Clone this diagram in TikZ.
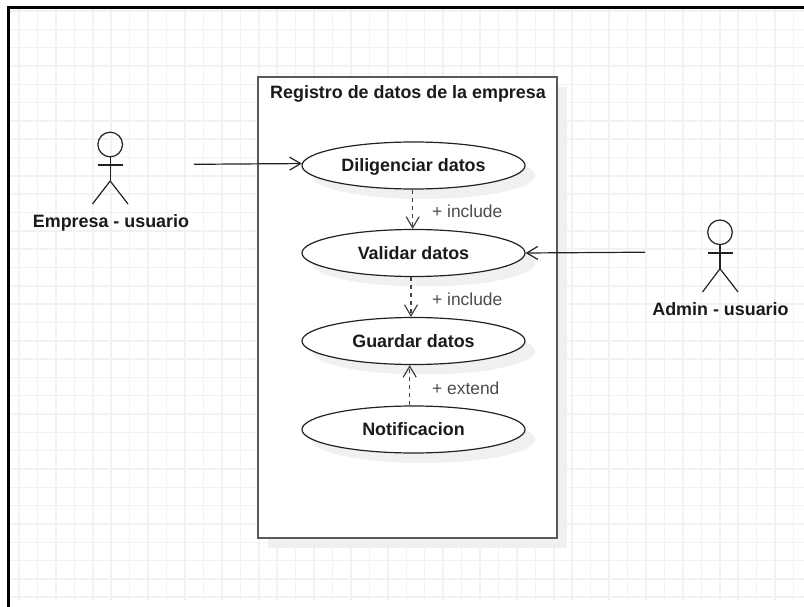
\documentclass[tikz,border=0pt]{standalone}
\usepackage{fontspec}
\setmainfont{Liberation Sans}
\usetikzlibrary{shapes.geometric,arrows.meta}
\definecolor{gridc}{HTML}{F2F2F2}
\definecolor{shadowc}{HTML}{F0F0F0}
\definecolor{inkc}{HTML}{1A1A1A}
\definecolor{edgec}{HTML}{222222}
\tikzset{
  x=1pt,y=-1pt,
  gridline/.style={gridc,line width=1.5pt},
  framel/.style={black,line width=3pt},
  boxl/.style={draw=black!65,line width=2pt,fill=white},
  usecase/.style={ellipse,draw=edgec,line width=1.2pt,fill=white,minimum width=223pt,minimum height=47pt,inner sep=0pt,font=\fontsize{17.9}{20}\selectfont\bfseries,text=inkc,text height=14pt,text depth=2pt},
  usecaseshadow/.style={ellipse,fill=shadowc,draw=none,minimum width=223pt,minimum height=47pt,inner sep=0pt},
  head/.style={circle,draw=edgec,line width=1.2pt,minimum size=24.6pt,inner sep=0pt},
  limb/.style={edgec,line width=1.2pt},
  actorlabel/.style={font=\fontsize{17.9}{20}\selectfont\bfseries,text=inkc,inner sep=0pt,anchor=base},
  titlelabel/.style={font=\fontsize{17.9}{20}\selectfont\bfseries,text=inkc,inner sep=0pt,anchor=base},
  rellabel/.style={font=\fontsize{17.4}{20}\selectfont,text=black!70,inner sep=0pt,anchor=base west},
  assoc/.style={edgec,line width=1.2pt,-{Straight Barb[length=11pt,width=13pt,line width=1.2pt]}},
  dep/.style={edgec!85,line width=1.5pt,dash pattern=on 4pt off 4pt,-{Straight Barb[length=11pt,width=13pt,line width=1.2pt]}},
}
\begin{document}
\begin{tikzpicture}
\useasboundingbox (0,0) rectangle (804,607);
\fill[white] (0,0) rectangle (804,607);
% grid
\foreach \k in {1,...,43} \draw[gridline] ({0.6+18.44*\k},9) -- ({0.6+18.44*\k},600);
\foreach \k in {0,...,32} \draw[gridline] (10,{11+18.32*\k}) -- (804,{11+18.32*\k});
% frame
\draw[framel] (8.5,607) -- (8.5,7.3) -- (804,7.3);
% system boundary
\fill[shadowc] (268,87) rectangle (567,548);
\draw[boxl] (258,77) rectangle (557,538);
\node[titlelabel] (title) at (408,99) {Registro de datos de la empresa};
% use case shadows
\node[usecaseshadow] (s1) at (423.5,175.5) {};
\node[usecaseshadow] (s2) at (423.5,263) {};
\node[usecaseshadow] (s3) at (423.5,351) {};
\node[usecaseshadow] (s4) at (423.5,439.5) {};
% use cases
\node[usecase] (dil) at (413.5,165.5) {Diligenciar datos};
\node[usecase] (val) at (413.5,253) {Validar datos};
\node[usecase] (gua) at (413.5,341) {Guardar datos};
\node[usecase] (not) at (413.5,429.5) {Notificacion};
% actor left
\node[head] (h1) at (110.2,144.5) {};
\coordinate (n1) at (110.2,181);
\coordinate (al1) at (97.7,165);
\coordinate (ar1) at (123,165);
\coordinate (ll1) at (92.5,204);
\coordinate (lr1) at (128,204);
\draw[limb] (h1) -- (n1);
\draw[limb] (al1) -- (ar1);
\draw[limb] (ll1) -- (n1) -- (lr1);
\node[actorlabel] (l1) at (111,227.7) {Empresa - usuario};
% actor right
\node[head] (h2) at (720,232.3) {};
\coordinate (n2) at (720,268.7);
\coordinate (al2) at (707.5,253);
\coordinate (ar2) at (733,253);
\coordinate (ll2) at (702.5,292);
\coordinate (lr2) at (738,292);
\draw[limb] (h2) -- (n2);
\draw[limb] (al2) -- (ar2);
\draw[limb] (ll2) -- (n2) -- (lr2);
\node[actorlabel] (l2) at (720.5,315.7) {Admin - usuario};
% connectors
\coordinate (e1) at (194,164.3);
\coordinate (e2) at (645,252.2);
\draw[assoc] (e1) -- (dil.179.4);
\draw[assoc] (e2) -- (val.0.4);
\draw[dep] (dil.268) -- (val.92);
\draw[dep] (val.264) -- (gua.96);
\draw[dep] (not.99) -- (gua.261);
\node[rellabel] (r1) at (432,217.7) {+ include};
\node[rellabel] (r2) at (432,305.7) {+ include};
\node[rellabel] (r3) at (432,394) {+ extend};
\end{tikzpicture}
\end{document}
